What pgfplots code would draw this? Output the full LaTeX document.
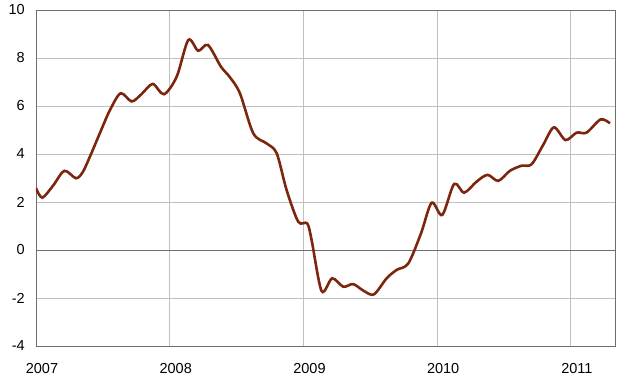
\documentclass[border=0pt]{standalone}
\usepackage{fontspec}
\setmainfont{Liberation Sans}
\usepackage{pgfplots}
\pgfplotsset{compat=1.18}
\definecolor{linec}{RGB}{125,38,14}
\definecolor{gridc}{RGB}{192,192,192}
\definecolor{axc}{RGB}{110,110,110}
\begin{document}
\begin{tikzpicture}
\useasboundingbox (-36pt,-44pt) rectangle (595pt,346pt);
\begin{axis}[
  scale only axis,
  width=579pt, height=336pt,
  xmin=2007, xmax=2011.33,
  ymin=-4, ymax=10,
  xtick={2007,2008,2009,2010,2011},
  ytick={-4,-2,0,2,4,6,8,10},
  /pgf/number format/assume math mode=true,
  tick style={draw=none},
  grid=major,
  major grid style={draw=gridc, line width=0.8pt},
  axis line style={draw=axc, line width=0.8pt},
  ticklabel style={font=\fontsize{14.5}{16}\selectfont, text=black},
  yticklabel style={inner sep=0pt, xshift=-11pt},
  xticklabel style={inner sep=0pt, anchor=north, yshift=-17pt, xshift=6pt},
  xticklabel={\pgfmathprintnumber[fixed,1000 sep={},precision=0]{\tick}},
  clip=true,
]
\draw[axc, line width=0.8pt] (axis cs:2007,0) -- (axis cs:2011.33,0);
\addplot[color=linec, line width=2.6pt, smooth, tension=0.5] table {
x y
2007.000 2.58
2007.047 2.18
2007.130 2.70
2007.212 3.30
2007.299 2.99
2007.350 3.25
2007.404 3.90
2007.480 4.90
2007.553 5.83
2007.633 6.53
2007.716 6.19
2007.790 6.50
2007.873 6.92
2007.957 6.49
2008.052 7.22
2008.139 8.75
2008.213 8.30
2008.286 8.54
2008.383 7.64
2008.450 7.20
2008.525 6.53
2008.625 4.86
2008.725 4.44
2008.800 4.03
2008.874 2.50
2008.961 1.18
2009.028 1.11
2009.061 0.42
2009.136 -1.71
2009.215 -1.18
2009.298 -1.53
2009.372 -1.42
2009.450 -1.70
2009.527 -1.85
2009.622 -1.18
2009.697 -0.83
2009.784 -0.56
2009.879 0.69
2009.959 1.97
2010.038 1.46
2010.127 2.75
2010.202 2.39
2010.295 2.85
2010.377 3.13
2010.457 2.88
2010.544 3.30
2010.631 3.51
2010.706 3.57
2010.793 4.38
2010.873 5.11
2010.960 4.58
2011.043 4.89
2011.117 4.89
2011.222 5.44
2011.292 5.28
};
\end{axis}
\end{tikzpicture}
\end{document}
